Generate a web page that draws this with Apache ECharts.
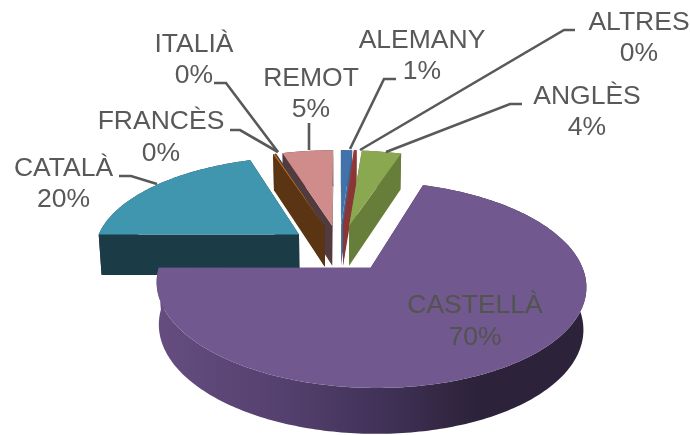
<!DOCTYPE html>
<html>
<head>
<meta charset="utf-8">
<style>
  html, body { margin: 0; padding: 0; background: #fff; }
  #chart { width: 690px; height: 435px; }
</style>
</head>
<body>
<div id="chart"></div>
<script src="https://cdn.jsdelivr.net/npm/echarts@6/dist/echarts.min.js"></script>
<script>
// dades llegides del gràfic, ordre alfabètic com a l'original
var categories = ['ALEMANY', 'ALTRES', 'ANGLÈS', 'CASTELLÀ', 'CATALÀ', 'FRANCÈS', 'ITALIÀ', 'REMOT'];
var shares = [1.05, 0.25, 3.7, 70, 20, 0.15, 0.1, 4.75];

var topColors = ['#4172A9', '#953735', '#8AA84F', '#71588F', '#3F96AE', '#E46C0A', '#2C4D75', '#CF8C8B'];
var sideColors = ['#3B6797', '#8A3634', '#677E3B', '#4A3860', '#1B3C47', '#5B3414', '#263F5E', '#533B3D'];

// posició de cada etiqueta: centre x, y de les dues línies
var labelPos = [[422, 40.5, 71.5], [639, 22.5, 53.5], [587, 96.5, 127.5], [475, 305.5, 337.5], [63.5, 168.5, 199.5], [161, 121.5, 153.5], [194, 44.5, 75.5], [311, 78.5, 109.5]];
var leaders = [
  [[396, 79], [384, 79], [350, 149]],
  [[575, 30], [564, 30], [360, 150]],
  [[522, 104], [510, 104], [386, 152]],
  null,
  [[119, 176], [131, 176], [157, 184]],
  [[230, 130], [240, 130], [278, 152]],
  [[214, 83], [226, 83], [278, 152]],
  [[309, 123], [309, 150]]
];

// projecció del pla del pastís amb perspectiva
var X0 = 339.5, Y0 = 248, A = 205, B = 94, K = 0.16, DEPTH = 41, EXPLODE = 0.25;

function project (u, v, z) {
  var s = 1 / (1 - K * v);
  return [X0 + A * u * s * (1 - 0.012 * z), Y0 + B * v * s + DEPTH * z * (1 + 0.1 * v)];
}

var total = shares.reduce(function (a, b) { return a + b; }, 0);
var startAngles = [];
shares.reduce(function (acc, v, i) {
  startAngles[i] = acc;
  return acc + v / total * 360;
}, 0);

function renderSlice (params) {
  var i = params.dataIndex;
  var a0 = startAngles[i];
  var a1 = a0 + shares[i] / total * 360;
  var mid = (a0 + a1) / 2 * Math.PI / 180;
  var cu = Math.sin(mid) * EXPLODE;
  var cv = -Math.cos(mid) * EXPLODE;
  var z2 = Math.round(1000 - Math.cos(mid) * 1000);

  var arc = function (z) {
    var pts = [];
    var n = Math.max(2, Math.ceil(a1 - a0));
    for (var k = 0; k <= n; k++) {
      var t = (a0 + (a1 - a0) * k / n) * Math.PI / 180;
      pts.push(project(cu + Math.sin(t), cv - Math.cos(t), z));
    }
    return pts;
  };
  var top = arc(0);
  var bottom = arc(1);
  var apexTop = project(cu, cv, 0);
  var apexBottom = project(cu, cv, 1);

  var sideFill = sideColors[i];
  if (categories[i] === 'CASTELLÀ') {
    sideFill = {
      type: 'linear', x: 157, y: 0, x2: 585, y2: 0, global: true,
      colorStops: [
        { offset: 0, color: '#654D80' },
        { offset: 0.3, color: '#54406E' },
        { offset: 0.55, color: '#3F3055' },
        { offset: 0.75, color: '#2C2239' },
        { offset: 1, color: '#2C2239' }
      ]
    };
  }

  var faces = [
    [apexTop, top[0], bottom[0], apexBottom],
    [apexTop, top[top.length - 1], bottom[bottom.length - 1], apexBottom],
    top.concat(bottom.slice().reverse())
  ];
  var children = faces.map(function (pts) {
    return { type: 'polygon', z2: z2, shape: { points: pts }, style: { fill: sideFill } };
  });
  children.push({ type: 'polygon', z2: z2 + 1, shape: { points: [apexTop].concat(top) }, style: { fill: topColors[i] } });

  var pos = labelPos[i];
  var pct = Math.round(shares[i] / total * 100) + '%';
  var textColor = categories[i] === 'CASTELLÀ' ? '#53534F' : '#595959';
  [categories[i], pct].forEach(function (txt, j) {
    children.push({
      type: 'text',
      z2: 3000,
      style: {
        text: txt, x: pos[0], y: pos[j + 1], align: 'center', verticalAlign: 'middle',
        fontFamily: 'Liberation Sans', fontSize: 26.5, fill: textColor
      }
    });
  });
  if (leaders[i]) {
    children.push({
      type: 'polyline',
      z2: 3000,
      shape: { points: leaders[i] },
      style: { fill: 'none', stroke: '#595959', lineWidth: 2.6 }
    });
  }
  return { type: 'group', children: children };
}

var chart = echarts.init(document.getElementById('chart'));
chart.setOption({
  animation: false,
  backgroundColor: '#fff',
  series: [{
    type: 'custom',
    coordinateSystem: 'none',
    renderItem: renderSlice,
    data: shares
  }]
});
</script>
</body>
</html>
